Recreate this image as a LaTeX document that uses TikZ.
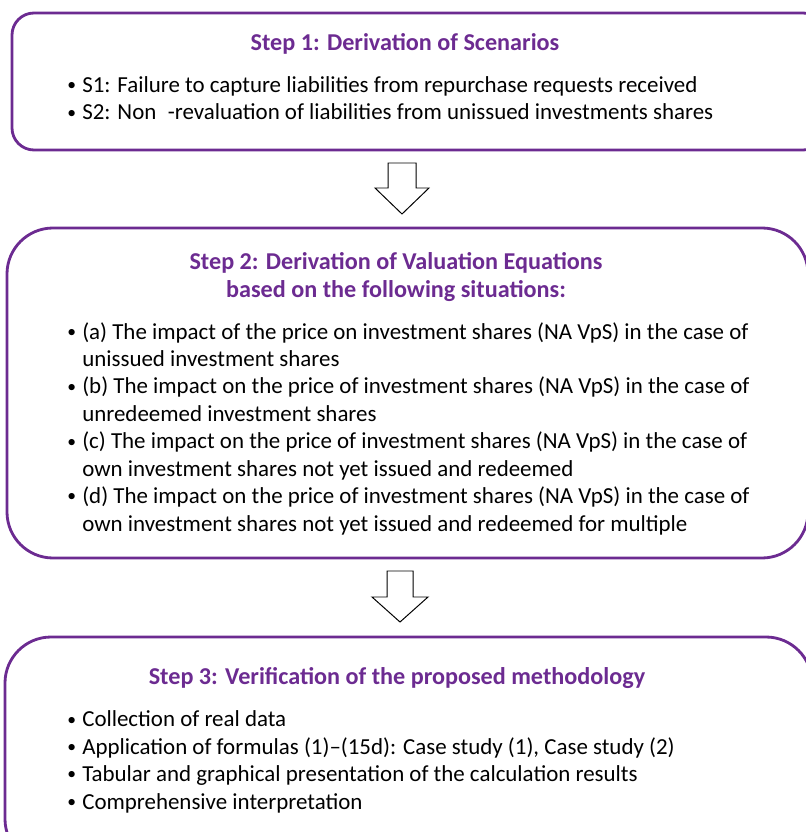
\documentclass[tikz,border=0pt]{standalone}
\usepackage{fontspec}
\setmainfont{Carlito}
\usetikzlibrary{positioning,calc}
\definecolor{stepviolet}{RGB}{108,43,145}
\newcommand{\bitem}{\makebox[0.375cm][l]{\raisebox{0.15ex}{\fontsize{12.5}{12.5}\selectfont\textbullet}}}
\newcommand{\bcont}{\hspace*{0.375cm}}

\begin{document}
\begin{tikzpicture}[x=0.025cm, y=-0.025cm,
    every node/.style={font=\fontsize{16.3}{19.5}\selectfont},
    stepbox/.style={draw=stepviolet, line width=2pt, inner sep=0pt, outer sep=0pt},
    steptitle/.style={font=\fontsize{17.2}{20.6}\selectfont\bfseries, text=stepviolet, inner sep=0pt, align=center, anchor=base},
    steplist/.style={inner sep=0pt, align=left, anchor=base west},
    blockarrow/.style={draw, fill=white, line width=0.7pt, line join=miter}]
    \useasboundingbox (0,0) rectangle (805,832);

    \node[stepbox, rounded corners=0.55cm, minimum width=813*0.025cm, minimum height=137*0.025cm] (step1) at (418.5,81.5) {};
    \node[stepbox, rounded corners=1.15cm, minimum width=801*0.025cm, minimum height=330*0.025cm] (step2) at (407.5,393) {};
    \node[stepbox, rounded corners=1.15cm, minimum width=807*0.025cm, minimum height=228*0.025cm] (step3) at (408.5,751) {};

    % anchor base = baseline of the last line
    \node[steptitle] (title1) at (405,51) {Step 1: Derivation of Scenarios};
    \node[steplist] (list1) at (67,120) {\bitem S1: Failure to capture liabilities from repurchase requests received\\
        \bitem S2: Non\hspace{0.5em}-revaluation of liabilities from unissued investments shares};

    \node[steptitle] (title2) at (396,298) {Step 2: Derivation of Valuation Equations\\based on the following situations:};
    \node[steplist] (list2) at (67,531) {\bitem (a) The impact of the price on investment shares (NA VpS) in the case of\\
        \bcont unissued investment shares\\
        \bitem (b) The impact on the price of investment shares (NA VpS) in the case of\\
        \bcont unredeemed investment shares\\
        \bitem (c) The impact on the price of investment shares (NA VpS) in the case of\\
        \bcont own investment shares not yet issued and redeemed\\
        \bitem (d) The impact on the price of investment shares (NA VpS) in the case of\\
        \bcont own investment shares not yet issued and redeemed for multiple};

    \node[steptitle] (title3) at (397,684) {Step 3: Verification of the proposed methodology};
    \node[steplist] (list3) at (67,809) {\bitem Collection of real data\\
        \bitem Application of formulas (1)--(15d): Case study (1), Case study (2)\\
        \bitem Tabular and graphical presentation of the calculation results\\
        \bitem Comprehensive interpretation};

    \coordinate (arr1) at (402,163);
    \coordinate (arr2) at (400,571);
    \draw[blockarrow] (arr1) ++(-14,0) -- ++(28,0) -- ++(0,25) -- ++(13,0) -- ++(-27,26) -- ++(-27,-26) -- ++(13,0) -- cycle;
    \draw[blockarrow] (arr2) ++(-13,0) -- ++(26,0) -- ++(0,26) -- ++(15,0) -- ++(-28,25) -- ++(-28,-25) -- ++(15,0) -- cycle;
\end{tikzpicture}
\end{document}
